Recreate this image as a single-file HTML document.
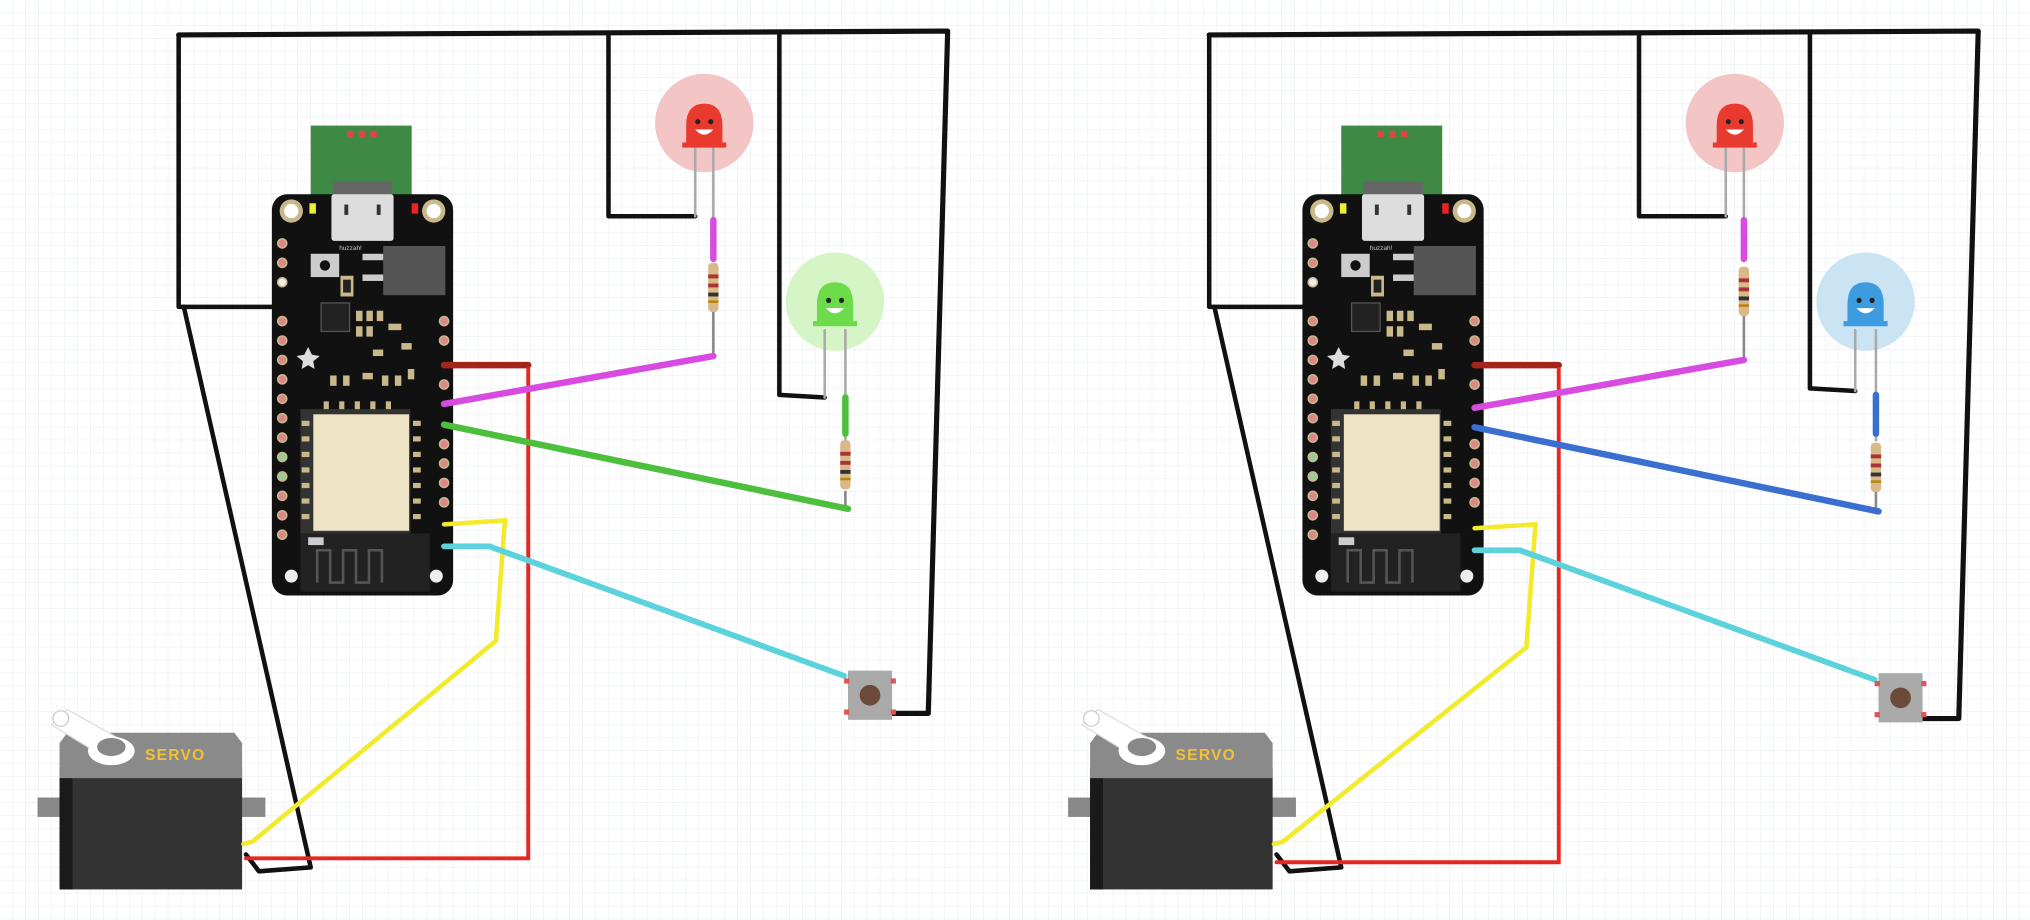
<!DOCTYPE html>
<html><head><meta charset="utf-8"><style>
html,body{margin:0;padding:0;background:#fff}
svg{display:block}
</style></head><body>
<svg width="2030" height="920" viewBox="0 0 1568 710.6" xmlns="http://www.w3.org/2000/svg">
<defs>
<pattern id="g" width="10" height="10" patternUnits="userSpaceOnUse"><path d="M10 0V10H0" fill="none" stroke="#e6ebf0" stroke-width="0.8"/></pattern>
<g id="board">
  <rect x="240" y="97" width="78" height="55" fill="#3e8a45"/>
  <rect x="268" y="101" width="5" height="5" fill="#d44"/><rect x="277" y="101" width="5" height="5" fill="#d44"/><rect x="286" y="101" width="5" height="5" fill="#d44"/>
  <rect x="210" y="150" width="140" height="310" rx="12" fill="#111"/>
  <rect x="257" y="140" width="46" height="12" fill="#666"/>
  <rect x="256" y="150" width="48" height="36" fill="#ddd" rx="2"/>
  <rect x="266" y="158" width="3" height="8" fill="#333"/><rect x="291" y="158" width="3" height="8" fill="#333"/>
  <circle cx="225" cy="163" r="9" fill="#c9b98a"/><circle cx="225" cy="163" r="5.5" fill="#fff"/>
  <circle cx="335" cy="163" r="9" fill="#c9b98a"/><circle cx="335" cy="163" r="5.5" fill="#fff"/>
  <rect x="239" y="157" width="5" height="8" fill="#ee3"/><rect x="318" y="157" width="5" height="8" fill="#e22"/>
  <text x="262" y="193" font-family="Liberation Sans, sans-serif" font-size="5" fill="#ccc">huzzah!</text>
  <rect x="240" y="196" width="22" height="18" fill="#ccc"/><circle cx="251" cy="205" r="4" fill="#111"/>
  <rect x="296" y="190" width="48" height="38" fill="#555"/>
  <rect x="280" y="196" width="16" height="5" fill="#ccc"/><rect x="280" y="212" width="16" height="5" fill="#ccc"/>
  <rect x="263" y="213" width="10" height="16" fill="#c9b98a"/><rect x="265" y="216" width="6" height="10" fill="#222"/>
  <rect x="248" y="234" width="22" height="22" fill="#222" stroke="#555"/>
  <g fill="#c9b98a">
    <rect x="275" y="240" width="5" height="8"/><rect x="283" y="240" width="5" height="8"/><rect x="291" y="240" width="5" height="8"/>
    <rect x="275" y="252" width="5" height="8"/><rect x="283" y="252" width="5" height="8"/><rect x="300" y="250" width="10" height="5"/>
    <rect x="255" y="290" width="5" height="8"/><rect x="265" y="290" width="5" height="8"/><rect x="280" y="288" width="8" height="5"/>
    <rect x="295" y="290" width="5" height="8"/><rect x="305" y="290" width="5" height="8"/><rect x="315" y="285" width="5" height="8"/>
    <rect x="310" y="265" width="8" height="5"/><rect x="288" y="270" width="8" height="5"/>
  </g>
  <path d="M238 268l3 6 6 1-5 4 1 6-5-3-5 3 1-6-5-4 6-1z" fill="#ddd"/>
  <rect x="232" y="316" width="85" height="96" fill="#333"/>
  <rect x="242" y="320" width="74" height="90" fill="#efe3c6"/>
  <g fill="#c9b98a">
    <rect x="233" y="325" width="6" height="4"/><rect x="233" y="337" width="6" height="4"/><rect x="233" y="349" width="6" height="4"/><rect x="233" y="361" width="6" height="4"/><rect x="233" y="373" width="6" height="4"/><rect x="233" y="385" width="6" height="4"/><rect x="233" y="397" width="6" height="4"/>
    <rect x="319" y="325" width="6" height="4"/><rect x="319" y="337" width="6" height="4"/><rect x="319" y="349" width="6" height="4"/><rect x="319" y="361" width="6" height="4"/><rect x="319" y="373" width="6" height="4"/><rect x="319" y="385" width="6" height="4"/><rect x="319" y="397" width="6" height="4"/>
    <rect x="250" y="310" width="4" height="6"/><rect x="262" y="310" width="4" height="6"/><rect x="274" y="310" width="4" height="6"/><rect x="286" y="310" width="4" height="6"/><rect x="298" y="310" width="4" height="6"/>
  </g>
  <rect x="232" y="412" width="100" height="45" fill="#222"/>
  <rect x="238" y="415" width="12" height="6" fill="#ccc"/>
  <path d="M245 450V425H255V450H265V425H275V450H285V425H295V450" fill="none" stroke="#555" stroke-width="2"/>
  <g stroke="#c9b98a" stroke-width="1.2">
  <g fill="#d88">
    <circle cx="218" cy="188" r="3.5"/><circle cx="218" cy="203" r="3.5"/><circle cx="218" cy="248" r="3.5"/><circle cx="218" cy="263" r="3.5"/>
    <circle cx="218" cy="278" r="3.5"/><circle cx="218" cy="293" r="3.5"/><circle cx="218" cy="308" r="3.5"/><circle cx="218" cy="323" r="3.5"/>
    <circle cx="218" cy="338" r="3.5"/><circle cx="218" cy="383" r="3.5"/><circle cx="218" cy="398" r="3.5"/><circle cx="218" cy="413" r="3.5"/>
    <circle cx="343" cy="248" r="3.5"/><circle cx="343" cy="263" r="3.5"/><circle cx="343" cy="297" r="3.5"/><circle cx="343" cy="343" r="3.5"/>
    <circle cx="343" cy="358" r="3.5"/><circle cx="343" cy="373" r="3.5"/><circle cx="343" cy="388" r="3.5"/>
  </g>
  <g fill="#9c9"><circle cx="218" cy="353" r="3.5"/><circle cx="218" cy="368" r="3.5"/></g>
  <g fill="#eee"><circle cx="218" cy="218" r="3.5"/></g>
  </g>
  <g fill="#eee"><circle cx="225" cy="445" r="5"/><circle cx="337" cy="445" r="5"/></g>
</g>
<g id="servo">
  <rect x="29" y="616" width="176" height="15" fill="#888"/>
  <rect x="46" y="593" width="141" height="94" fill="#333"/>
  <rect x="46" y="593" width="10" height="94" fill="#1a1a1a"/>
  <path d="M52 566H181L187 574V601H46V574Z" fill="#8a8a8a"/>
  <path d="M40 560L52 548L98 574L86 588Z" fill="#fff" stroke="#ddd"/>
  <circle cx="47" cy="555" r="6" fill="#fff" stroke="#ccc"/>
  <ellipse cx="86" cy="580" rx="18" ry="11" fill="#fff"/>
  <ellipse cx="86" cy="577" rx="11" ry="7" fill="#888"/>
  <text x="112" y="587" font-family="Liberation Sans, sans-serif" font-weight="bold" font-size="12" fill="#f2c233" letter-spacing="1">SERVO</text>
</g>
<g id="res"><rect x="-4" y="0" width="8" height="38" rx="3" fill="#d9b98a"/><rect x="-4" y="9" width="8" height="3" fill="#a33"/><rect x="-4" y="16" width="8" height="3" fill="#a33"/><rect x="-4" y="23" width="8" height="3" fill="#333"/><rect x="-4" y="29" width="8" height="2" fill="#b8860b"/></g>
<g id="btn"><rect x="0" y="0" width="34" height="38" fill="#aaa"/><rect x="-3" y="6" width="4" height="4" fill="#d55"/><rect x="33" y="6" width="4" height="4" fill="#d55"/><rect x="-3" y="30" width="4" height="4" fill="#d55"/><rect x="33" y="30" width="4" height="4" fill="#d55"/><circle cx="17" cy="19" r="8" fill="#6b4a3a"/></g>
</defs>
<rect width="1568" height="710.6" fill="#fff"/>
<rect width="1568" height="710.6" fill="url(#g)"/>

<!-- LEFT -->
<g stroke-linecap="round" stroke-linejoin="round" fill="none">
  <path d="M138 27L732 24L717 551H690" stroke="#111" stroke-width="4"/>
  <path d="M138 27V237H217" stroke="#111" stroke-width="3.5"/>
  <path d="M470 27V167H537" stroke="#111" stroke-width="3.5"/>
  <path d="M602 27V305L637 307" stroke="#111" stroke-width="3.5"/>
  <path d="M142 237L240 670L200 673L190 660" stroke="#111" stroke-width="3.5"/>
</g>
<circle cx="544" cy="95" r="38" fill="#f3c5c5"/>
<circle cx="645" cy="233" r="38" fill="#d6f5c6"/>
<use href="#board"/>
<use href="#servo"/>
<g stroke-linecap="round" fill="none">
  <path d="M537 110V167M551 110V200" stroke="#aaa" stroke-width="2"/>
  <path d="M551 170V200" stroke="#d84be0" stroke-width="5"/>
  <path d="M551 240V275" stroke="#888" stroke-width="2"/>
  <path d="M637 255V307M653 255V340" stroke="#aaa" stroke-width="2"/>
  <path d="M653 307V335" stroke="#4cbf3c" stroke-width="5"/>
  <path d="M653 380V393" stroke="#888" stroke-width="2"/>
  <path d="M343 282H408" stroke="#a5241c" stroke-width="5"/>
  <path d="M408 285V663H190" stroke="#e8261f" stroke-width="3"/>
  <path d="M343 312L551 275" stroke="#d84be0" stroke-width="5"/>
  <path d="M343 328L655 393" stroke="#4cbf3c" stroke-width="5"/>
  <path d="M343 405L390 402L383 495L195 650L188 652" stroke="#f2ea2a" stroke-width="3.5"/>
  <path d="M343 422H378L652 522" stroke="#5cd3dc" stroke-width="4.5"/>
</g>
<use href="#res" x="551" y="203"/>
<use href="#res" x="653" y="340"/>
<use href="#btn" x="655" y="518"/>
<g>
  <path d="M530 97Q530 80 544 80Q558 80 558 97V112H530Z" fill="#e83a2f"/><rect x="527" y="110" width="34" height="4" fill="#e83a2f"/>
  <circle cx="539" cy="94" r="2" fill="#222"/><circle cx="549" cy="94" r="2" fill="#222"/><path d="M537 100Q544 108 551 100Z" fill="#fff"/>
  <path d="M631 235Q631 218 645 218Q659 218 659 235V250H631Z" fill="#6cdc4a"/><rect x="628" y="248" width="34" height="4" fill="#6cdc4a"/>
  <circle cx="640" cy="232" r="2" fill="#222"/><circle cx="650" cy="232" r="2" fill="#222"/><path d="M638 238Q645 246 652 238Z" fill="#fff"/>
</g>

<!-- RIGHT -->
<g transform="translate(796,0)">
<g stroke-linecap="round" stroke-linejoin="round" fill="none">
  <path d="M138 27L732 24L717 555H690" stroke="#111" stroke-width="4"/>
  <path d="M138 27V237H217" stroke="#111" stroke-width="3.5"/>
  <path d="M470 27V167H537" stroke="#111" stroke-width="3.5"/>
  <path d="M602 27V300L637 302" stroke="#111" stroke-width="3.5"/>
  <path d="M142 237L240 670L200 673L190 660" stroke="#111" stroke-width="3.5"/>
</g>
<circle cx="544" cy="95" r="38" fill="#f3c5c5"/>
<circle cx="645" cy="233" r="38" fill="#cbe4f4"/>
<use href="#board"/>
<use href="#servo"/>
<g stroke-linecap="round" fill="none">
  <path d="M537 110V167M551 110V200" stroke="#aaa" stroke-width="2"/>
  <path d="M551 170V200" stroke="#d84be0" stroke-width="5"/>
  <path d="M551 240V275" stroke="#888" stroke-width="2"/>
  <path d="M637 255V302M653 255V340" stroke="#aaa" stroke-width="2"/>
  <path d="M653 305V335" stroke="#3a6fd0" stroke-width="5"/>
  <path d="M653 380V393" stroke="#888" stroke-width="2"/>
  <path d="M343 282H408" stroke="#a5241c" stroke-width="5"/>
  <path d="M408 285V666H190" stroke="#e8261f" stroke-width="3"/>
  <path d="M343 315L551 278" stroke="#d84be0" stroke-width="5"/>
  <path d="M343 330L655 395" stroke="#3a6fd0" stroke-width="5"/>
  <path d="M343 408L390 405L383 500L195 650L188 652" stroke="#f2ea2a" stroke-width="3.5"/>
  <path d="M343 425H378L652 525" stroke="#5cd3dc" stroke-width="4.5"/>
</g>
<use href="#res" x="551" y="206"/>
<use href="#res" x="653" y="342"/>
<use href="#btn" x="655" y="520"/>
<g>
  <path d="M530 97Q530 80 544 80Q558 80 558 97V112H530Z" fill="#e83a2f"/><rect x="527" y="110" width="34" height="4" fill="#e83a2f"/>
  <circle cx="539" cy="94" r="2" fill="#222"/><circle cx="549" cy="94" r="2" fill="#222"/><path d="M537 100Q544 108 551 100Z" fill="#fff"/>
  <path d="M631 235Q631 218 645 218Q659 218 659 235V250H631Z" fill="#3d9be0"/><rect x="628" y="248" width="34" height="4" fill="#3d9be0"/>
  <circle cx="640" cy="232" r="2" fill="#222"/><circle cx="650" cy="232" r="2" fill="#222"/><path d="M638 238Q645 246 652 238Z" fill="#fff"/>
</g>
</g>
</svg>
</body></html>
